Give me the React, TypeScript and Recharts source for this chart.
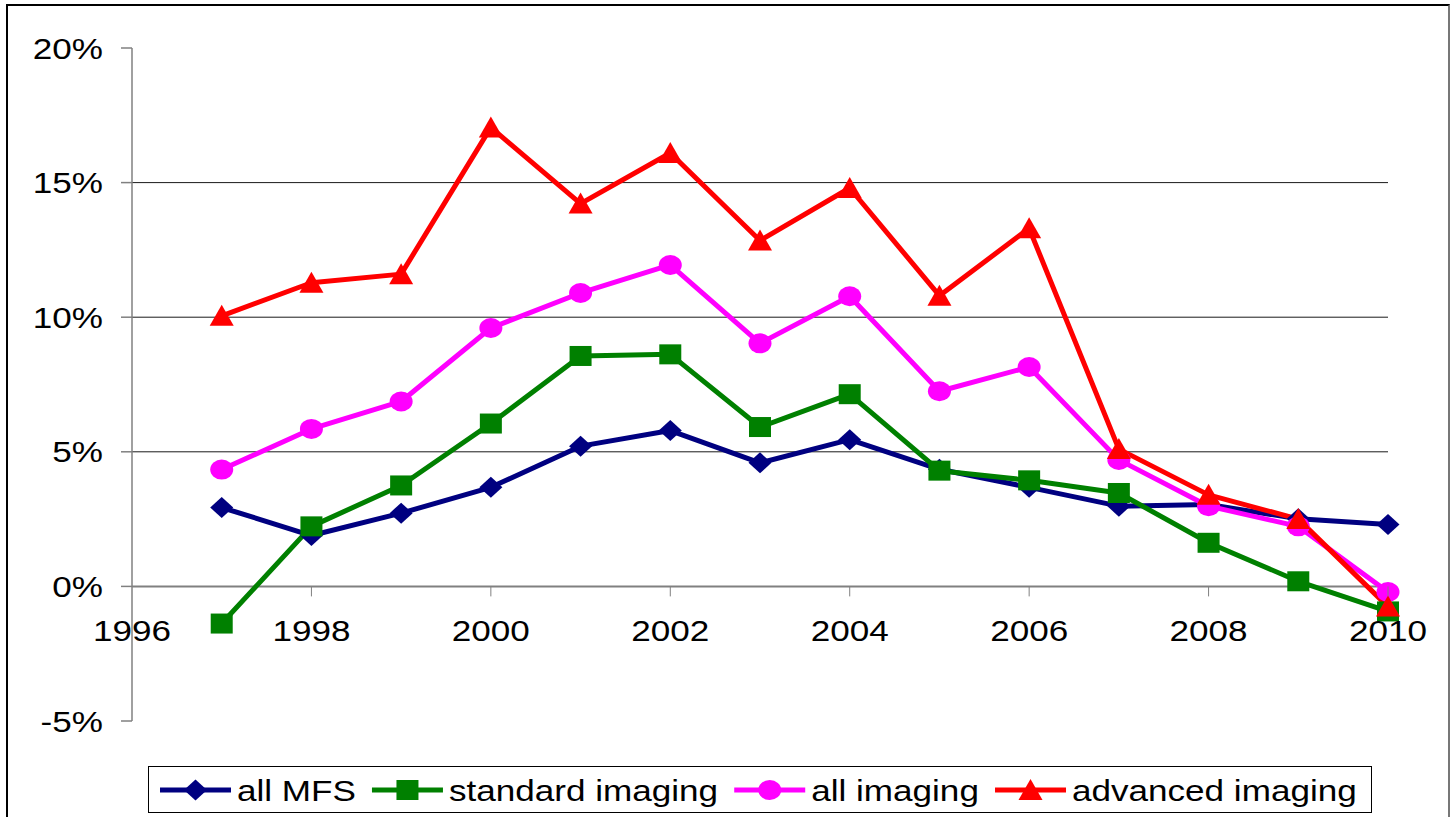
import React from 'react';
import { LineChart, Line, XAxis, YAxis, ReferenceLine, Legend } from 'recharts';

// ---- data ----
const years = [1997, 1998, 1999, 2000, 2001, 2002, 2003, 2004, 2005, 2006, 2007, 2008, 2009, 2010];
const allMFS = [2.93, 1.89, 2.72, 3.68, 5.21, 5.79, 4.59, 5.45, 4.35, 3.68, 2.98, 3.04, 2.51, 2.3];
const standardImaging = [-1.38, 2.23, 3.75, 6.05, 8.56, 8.62, 5.92, 7.14, 4.3, 3.94, 3.47, 1.62, 0.19, -0.93];
const allImaging = [4.34, 5.85, 6.87, 9.6, 10.9, 11.94, 9.03, 10.78, 7.25, 8.15, 4.7, 2.98, 2.23, -0.21];
const advancedImaging = [10.05, 11.28, 11.6, 17.05, 14.22, 16.1, 12.85, 14.8, 10.8, 13.3, 5.1, 3.4, 2.5, -0.75];

const yTicks = [-5, 0, 5, 10, 15, 20];
const xTicks = [1996, 1998, 2000, 2002, 2004, 2006, 2008, 2010];
const gridValues = [5, 10, 15];

type Shape = 'diamond' | 'square' | 'circle' | 'triangle';
const series: { key: string; name: string; color: string; shape: Shape; values: number[] }[] = [
  { key: 'allMFS', name: 'all MFS', color: '#000080', shape: 'diamond', values: allMFS },
  { key: 'standardImaging', name: 'standard imaging', color: '#008000', shape: 'square', values: standardImaging },
  { key: 'allImaging', name: 'all imaging', color: '#FF00FF', shape: 'circle', values: allImaging },
  { key: 'advancedImaging', name: 'advanced imaging', color: '#FF0000', shape: 'triangle', values: advancedImaging },
];

const data = years.map((year, i) => {
  const row: any = { year };
  series.forEach((s) => (row[s.key] = s.values[i]));
  return row;
});

// ---- layout ----
const W = 1452;
const H = 817;
const XAXIS_H = 30;
const MARGIN = { top: 48, right: 64, bottom: 96 - XAXIS_H, left: 0 };
const YAXIS_W = 132;
const Y_MIN = -5;
const Y_MAX = 20;
const PLOT_H = H - MARGIN.top - MARGIN.bottom - XAXIS_H;
const ZERO_Y = MARGIN.top + (PLOT_H * (Y_MAX - 0)) / (Y_MAX - Y_MIN);

const FONT = '"Liberation Sans", Arial, sans-serif';
const FS = 30;
const SX = 1.17;

function Marker({ shape, color, cx, cy }: { shape: Shape; color: string; cx: number; cy: number }) {
  if (shape === 'diamond')
    return <polygon points={`${cx},${cy - 10.5} ${cx + 11.5},${cy} ${cx},${cy + 10.5} ${cx - 11.5},${cy}`} fill={color} />;
  if (shape === 'square') return <rect x={cx - 11} y={cy - 10} width={22} height={20} fill={color} />;
  if (shape === 'circle') return <ellipse cx={cx} cy={cy} rx={11.5} ry={10} fill={color} />;
  return <polygon points={`${cx},${cy - 11} ${cx + 12},${cy + 10} ${cx - 12},${cy + 10}`} fill={color} />;
}

const YTick = (props: any) => {
  const { x, y, payload } = props;
  return (
    <text
      transform={`translate(${x},${y + 10.5}) scale(${SX},1)`}
      textAnchor="end"
      fontFamily={FONT}
      fontSize={FS}
      fill="#000"
    >
      {`${payload.value}%`}
    </text>
  );
};

const XTick = (props: any) => {
  const { x, payload } = props;
  return (
    <g>
      {payload.value !== xTicks[0] && (
        <line x1={x} y1={ZERO_Y} x2={x} y2={ZERO_Y + 10} stroke="#808080" strokeWidth={1} />
      )}
      <text
        transform={`translate(${x},${ZERO_Y + 55}) scale(${SX},1)`}
        textAnchor="middle"
        fontFamily={FONT}
        fontSize={FS}
        fill="#000"
      >
        {payload.value}
      </text>
    </g>
  );
};

let ctx: CanvasRenderingContext2D | null = null;
function measure(t: string): number {
  if (!ctx) {
    const c = document.createElement('canvas');
    ctx = c.getContext('2d');
  }
  if (!ctx) return t.length * FS * 0.5;
  ctx.font = `${FS}px "Liberation Sans", Arial, sans-serif`;
  return ctx.measureText(t).width;
}

const LEG_W = 1224;
const LEG_H = 47;

const renderLegend = () => {
  let x = 12;
  const items = series.map((s) => {
    const lx = x;
    const tw = measure(s.name) * SX;
    x += 77 + tw + 16;
    return (
      <g key={s.key}>
        <line x1={lx} y1={24} x2={lx + 71} y2={24} stroke={s.color} strokeWidth={5} />
        <Marker shape={s.shape} color={s.color} cx={lx + 35.5} cy={24} />
        <text
          transform={`translate(${lx + 77},35) scale(${SX},1)`}
          fontFamily={FONT}
          fontSize={FS}
          fill="#000"
        >
          {s.name}
        </text>
      </g>
    );
  });
  return (
    <svg width={LEG_W} height={LEG_H} style={{ display: 'block' }}>
      <rect x={0.5} y={0.5} width={LEG_W - 1} height={LEG_H - 1} fill="#fff" stroke="#000" strokeWidth={1} />
      {items}
    </svg>
  );
};

export default function App() {
  return (
    <div style={{ position: 'fixed', left: 0, top: 0, width: W, height: H, overflow: 'hidden', background: '#fff' }}>
      <div
        style={{
          position: 'absolute',
          left: 6,
          top: 4,
          width: 1444,
          height: 900,
          boxSizing: 'border-box',
          borderLeft: '2px solid #000',
          borderTop: '2px solid #000',
          borderRight: '2px solid #777',
        }}
      />
      <div style={{ position: 'absolute', left: 0, top: 0 }}>
        <LineChart width={W} height={H} data={data} margin={MARGIN}>
          <XAxis
            dataKey="year"
            type="number"
            domain={[1996, 2010]}
            ticks={xTicks}
            interval={0}
            height={XAXIS_H}
            axisLine={false}
            tickLine={false}
            tick={<XTick />}
          />
          <YAxis
            type="number"
            domain={[Y_MIN, Y_MAX]}
            ticks={yTicks}
            interval={0}
            width={YAXIS_W}
            tickSize={11}
            tickMargin={18}
            axisLine={{ stroke: '#808080', strokeWidth: 1.5 }}
            tickLine={{ stroke: '#808080', strokeWidth: 1.5 }}
            tick={<YTick />}
          />
          {gridValues.map((v) => (
            <ReferenceLine key={v} y={v} stroke="#1a1a1a" strokeWidth={1} />
          ))}
          <ReferenceLine y={0} stroke="#808080" strokeWidth={2} />
          {series.map((s) => (
            <Line
              key={s.key}
              dataKey={s.key}
              name={s.name}
              type="linear"
              stroke={s.color}
              strokeWidth={5}
              strokeLinejoin="round"
              isAnimationActive={false}
              activeDot={false}
              dot={(p: any) =>
                p.cx == null || p.cy == null ? (
                  <g key={`${s.key}-${p.index}`} />
                ) : (
                  <Marker key={`${s.key}-${p.index}`} shape={s.shape} color={s.color} cx={p.cx} cy={p.cy} />
                )
              }
            />
          ))}
          <Legend
            layout="horizontal"
            verticalAlign="middle"
            align="center"
            wrapperStyle={{ left: 148, top: 766, width: LEG_W, height: LEG_H }}
            content={renderLegend}
          />
        </LineChart>
      </div>
    </div>
  );
}
